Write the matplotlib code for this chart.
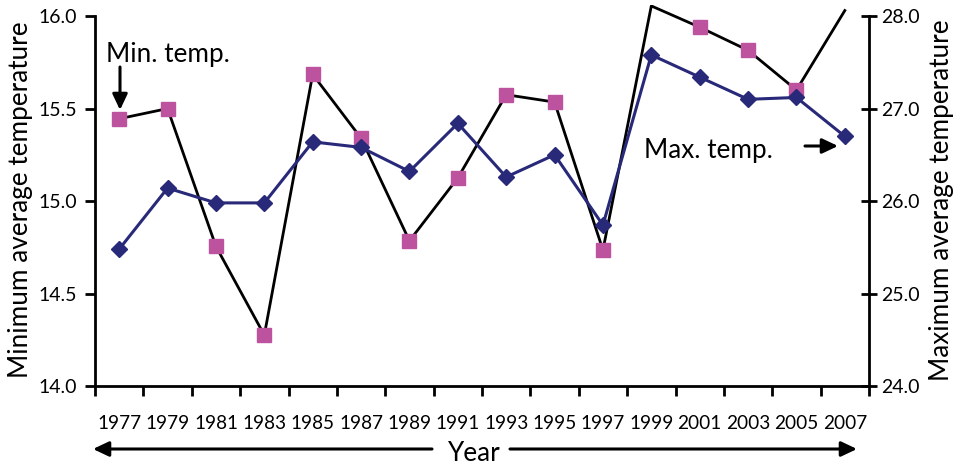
import matplotlib
matplotlib.use("Agg")
import matplotlib.pyplot as plt
import numpy as np

plt.rcParams["font.family"] = ["Lato", "DejaVu Sans"]

years = ["1977", "1979", "1981", "1983", "1985", "1987", "1989", "1991",
         "1993", "1995", "1997", "1999", "2001", "2003", "2005", "2007"]
# blue diamonds, left axis
min_temp = [14.74, 15.07, 14.99, 14.99, 15.32, 15.29, 15.16, 15.42,
            15.13, 15.25, 14.87, 15.79, 15.67, 15.55, 15.56, 15.35]
# magenta squares on the black line, right axis
max_temp = [26.89, 27.00, 25.51, 24.55, 27.37, 26.68, 25.57, 26.25,
            27.15, 27.07, 25.47, 28.11, 27.88, 27.63, 27.20, 28.06]

W, H = 956, 466
fig = plt.figure(figsize=(W / 100, H / 100), dpi=100)

# axes box in pixels: x 95..869, y 5..386
ax = fig.add_axes([95 / W, (H - 386) / H, 774 / W, 381 / H])
axr = ax.twinx()
ax.set_zorder(axr.get_zorder() + 1)
ax.patch.set_visible(False)

x = np.arange(len(years)) + 0.5
max_arr = np.array(max_temp)
shown = np.where(max_arr <= 28.0, max_arr, np.nan)

axr.plot(x, max_arr, color="black", lw=2.0, zorder=2)
axr.plot(x, shown, ls="none", marker="s", ms=10, color="#BD529F",
         mec="#BD529F", zorder=3)
ax.plot(x, min_temp, color="#29297A", lw=2.2, marker="D", ms=7.8,
        mec="#29297A", zorder=4)

ax.set_xlim(0, 16)
ax.set_ylim(14, 16.06)
axr.set_ylim(24, 28.12)

for a in (ax, axr):
    a.spines["top"].set_visible(False)
    for s in a.spines.values():
        s.set_linewidth(2.0)
ax.spines["right"].set_visible(False)
axr.spines["left"].set_visible(False)
axr.spines["bottom"].set_visible(False)
ax.spines["left"].set_bounds(14, 16)
axr.spines["right"].set_bounds(24, 28)

ax.set_yticks([14.0, 14.5, 15.0, 15.5, 16.0])
ax.set_yticklabels(["14.0", "14.5", "15.0", "15.5", "16.0"])
axr.set_yticks([24, 25, 26, 27, 28])
axr.set_yticklabels(["24.0", "25.0", "26.0", "27.0", "28.0"])
ax.tick_params(axis="y", direction="out", length=7, width=2, labelsize=14, pad=6)
axr.tick_params(axis="y", direction="inout", length=12, width=2, labelsize=14, pad=3)

ax.set_xticks(np.arange(0, 17))
ax.set_xticklabels([])
ax.set_xticks(x, minor=True)
ax.set_xticklabels(years, minor=True)
ax.tick_params(axis="x", which="major", direction="out", length=7, width=2)
ax.tick_params(axis="x", which="minor", length=0, labelsize=13.7, pad=21)

fig.text(21 / W, 1 - 200 / H, "Minimum average temperature", rotation=90,
         ha="center", va="center", fontsize=18.8)
fig.text(941 / W, 1 - 200 / H, "Maximum average temperature", rotation=90,
         ha="center", va="center", fontsize=18.8)

# annotations
fig.text(106 / W, 1 - 62 / H, "Min. temp.", ha="left", va="baseline", fontsize=18.8)
fig.text(644 / W, 1 - 158 / H, "Max. temp.", ha="left", va="baseline", fontsize=18.8)
fig.text(474 / W, 1 - 461 / H, "Year", ha="center", va="baseline", fontsize=18.8)

arrow = dict(arrowstyle="-|>,head_length=0.95,head_width=0.45", color="black",
             lw=2.2, shrinkA=0, shrinkB=0)
ax.annotate("", xy=(120 / W, 1 - 110 / H), xytext=(120 / W, 1 - 67 / H),
            xycoords="figure fraction", arrowprops=arrow)
ax.annotate("", xy=(838 / W, 1 - 146 / H), xytext=(805 / W, 1 - 146 / H),
            xycoords="figure fraction", arrowprops=arrow)
ax.annotate("", xy=(93 / W, 1 - 449 / H), xytext=(432 / W, 1 - 449 / H),
            xycoords="figure fraction", arrowprops=arrow, annotation_clip=False)
ax.annotate("", xy=(857 / W, 1 - 449 / H), xytext=(510 / W, 1 - 449 / H),
            xycoords="figure fraction", arrowprops=arrow, annotation_clip=False)

fig.savefig("out.png", dpi=100)
